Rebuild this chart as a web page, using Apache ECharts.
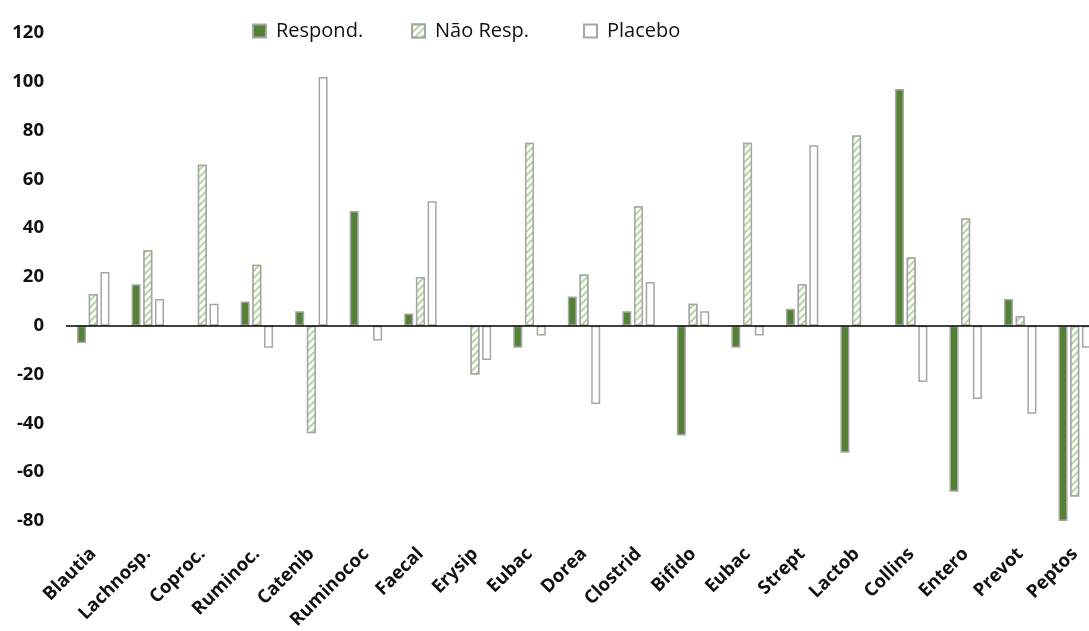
<!DOCTYPE html>
<html>
<head>
<meta charset="utf-8">
<script src="https://cdn.jsdelivr.net/npm/echarts@6/dist/echarts.min.js"></script>
<style>html,body{margin:0;padding:0;background:#fff}#chart{width:1089px;height:631px}</style>
</head>
<body>
<div id="chart"></div>
<script>
const categories = ['Blautia','Lachnosp.','Coproc.','Ruminoc.','Catenib','Ruminococ','Faecal','Erysip','Eubac','Dorea','Clostrid','Bifido','Eubac','Strept','Lactob','Collins','Entero','Prevot','Peptos'];
const seriesNames = ['Respond.','Não Resp.','Placebo'];
const respond  = [-7, 17, null, 10, 6, 47, 5, null, -9, 12, 6, -45, -9, 7, -52, 97, -68, 11, -80];
const naoResp  = [13, 31, 66, 25, -44, null, 20, -20, 75, 21, 49, 9, 75, 17, 78, 28, 44, 4, -70];
const placebo  = [22, 11, 9, -9, 102, -6, 51, -14, -4, -32, 18, 6, -4, 74, null, -23, -30, -36, -9];
const yTicks = {min: -80, max: 120, interval: 20};

const chart = echarts.init(document.getElementById('chart'));
const border = {borderColor: '#a6a6a6', borderWidth: 1.5};
const fontFam = '"Open Sans", sans-serif';
const legendText = {fontFamily: fontFam, fontSize: 20, color: '#111', padding: [0, 0, 0, 5]};
const legendBase = {top: 16, icon: 'rect', itemWidth: 13, itemHeight: 13, textStyle: legendText};
chart.setOption({
  animation: false,
  backgroundColor: '#fff',
  legend: [
    Object.assign({data: [seriesNames[0]], left: 247}, legendBase),
    Object.assign({data: [seriesNames[1]], left: 406}, legendBase),
    Object.assign({data: [seriesNames[2]], left: 578}, legendBase)
  ],
  grid: {left: 66, right: -13, top: 33, bottom: 110, containLabel: false, outerBoundsMode: 'none'},
  xAxis: {
    type: 'category',
    data: categories,
    axisLine: {show: false, onZero: false},
    axisTick: {show: false},
    axisLabel: {interval: 0, rotate: 45, margin: 30, fontFamily: fontFam, fontWeight: 'bold', fontSize: 18.5, color: '#111'}
  },
  yAxis: {
    type: 'value',
    min: yTicks.min, max: yTicks.max, interval: yTicks.interval,
    splitLine: {show: false},
    axisLine: {show: false},
    axisTick: {show: false},
    axisLabel: {margin: 22, fontFamily: fontFam, fontWeight: 'bold', fontSize: 18.5, color: '#111'}
  },
  series: [
    {
      name: seriesNames[0], type: 'bar', data: respond, barWidth: 9, barGap: '30%',
      itemStyle: Object.assign({color: '#548235'}, border),
      markLine: {silent: true, symbol: 'none', label: {show: false},
        lineStyle: {color: '#000', width: 1.5, type: 'solid'}, data: [{yAxis: 0}]}
    },
    {
      name: seriesNames[1], type: 'bar', data: naoResp, barWidth: 9, barGap: '30%',
      itemStyle: Object.assign({color: '#ffffff',
        decal: {symbol: 'rect', symbolSize: 1, color: '#b3d79b', backgroundColor: '#ffffff',
          dashArrayX: [1, 0], dashArrayY: [2, 3], rotation: -Math.PI / 4}}, border)
    },
    {
      name: seriesNames[2], type: 'bar', data: placebo, barWidth: 9, barGap: '30%',
      itemStyle: Object.assign({color: '#ffffff'}, border)
    }
  ]
});
</script>
</body>
</html>
